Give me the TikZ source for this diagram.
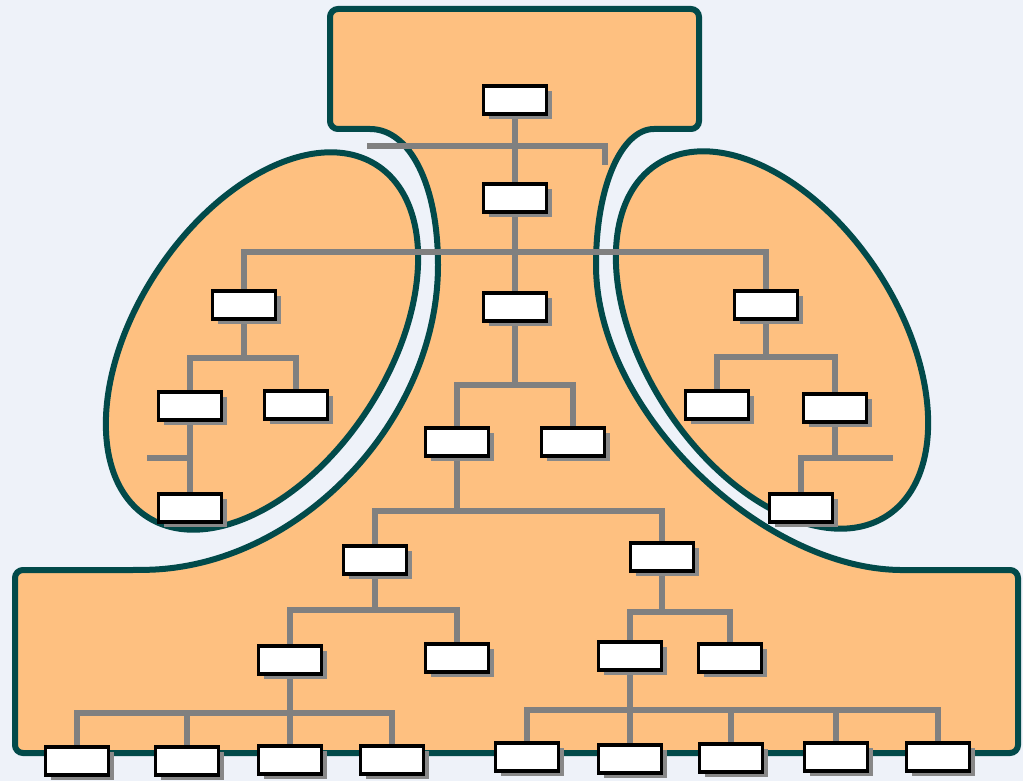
\documentclass[tikz,border=0pt]{standalone}
\usetikzlibrary{shadows}

\definecolor{paper}{RGB}{238,242,249}
\definecolor{regionfill}{RGB}{254,192,128}
\definecolor{regionline}{RGB}{2,74,74}
\definecolor{linkgray}{RGB}{128,128,128}
\definecolor{boxshade}{RGB}{136,136,136}

\pgfdeclarelayer{back}
\pgfsetlayers{back,main}

\begin{document}
\begin{tikzpicture}[x=1pt,y=-1pt,
    orgbox/.style={draw=black,line width=3.5pt,fill=white,inner sep=0pt,
      minimum width=63pt,minimum height=28pt,
      drop shadow={shadow xshift=5pt,shadow yshift=-5pt,fill=boxshade,opacity=1}},
    link/.style={draw=linkgray,line width=6pt},
    region/.style={fill=regionfill,draw=regionline,line width=6pt}]
  \useasboundingbox (0,0) rectangle (1023,781);

  % top and trunk
  \node[orgbox] (n1) at (515,100) {};
  \node[orgbox] (n2) at (515,198) {};
  \node[orgbox] (n4) at (515,307) {};
  % left oval
  \node[orgbox] (n3) at (244,305) {};
  \node[orgbox] (n6) at (190,406) {};
  \node[orgbox] (n7) at (296,405) {};
  \node[orgbox] (n10) at (190,508) {};
  % right oval
  \node[orgbox] (n5) at (766,305) {};
  \node[orgbox] (n8) at (717,405) {};
  \node[orgbox] (n9) at (835,408) {};
  \node[orgbox] (n11) at (801,508) {};
  % middle
  \node[orgbox] (n12) at (457,442) {};
  \node[orgbox] (n13) at (573,442) {};
  \node[orgbox] (n14) at (375,560) {};
  \node[orgbox] (n15) at (662,557) {};
  \node[orgbox] (n16) at (290,660) {};
  \node[orgbox] (n17) at (457,658) {};
  \node[orgbox] (n18) at (630,656) {};
  \node[orgbox] (n19) at (730,658) {};
  % bottom row
  \node[orgbox] (n20) at (77,761) {};
  \node[orgbox] (n21) at (187,761) {};
  \node[orgbox] (n22) at (290,760) {};
  \node[orgbox] (n23) at (392,760) {};
  \node[orgbox] (n24) at (527,757) {};
  \node[orgbox] (n25) at (630,759) {};
  \node[orgbox] (n26) at (731,758) {};
  \node[orgbox] (n27) at (836,757) {};
  \node[orgbox] (n28) at (938,757) {};

  \begin{pgfonlayer}{back}
    \fill[paper] (0,0) rectangle (1023,781);
    \draw[region] (515,9) [rounded corners=8pt] -- (699,9) -- (699,129) -- (662,129)
      [sharp corners] .. controls (622,129) and (596,185) .. (596,265)
      .. controls (596,410) and (760,568) .. (900,570)
      [rounded corners=8pt] -- (1018,570) -- (1018,753) -- (15,753) -- (15,570) -- (140,570)
      [sharp corners] .. controls (300,566) and (438,420) .. (438,265)
      .. controls (438,185) and (410,129) .. (370,129)
      [rounded corners=8pt] -- (330,129) -- (330,9) -- cycle;
    \draw[region,rotate around={56.7:(262,341)}] (262,341) ellipse [x radius=210pt,y radius=126pt];
    \draw[region,rotate around={-56.7:(772,340)}] (772,340) ellipse [x radius=210pt,y radius=126pt];

    % connectors
    \coordinate (t1a) at (367,146);
    \coordinate (t1b) at (605,165);
    \coordinate (s6) at (147,458);
    \coordinate (s9) at (893,458);
    \draw[link] (n1.south) -- (n2.north);
    \draw[link] (t1a) -| (t1b);
    \draw[link] (n2.south) -- (n4.north);
    \draw[link] (n3.north) |- (n2.south |- 0,252) -| (n5.north);

    \draw[link] (n3.south) -- (n3.south |- 0,358);
    \draw[link] (n6.north) |- (n3.south |- 0,358) -| (n7.north);
    \draw[link] (n6.south) -- (n10.north);
    \draw[link] (s6) -- (n6.south |- s6);

    \draw[link] (n5.south) -- (n5.south |- 0,357);
    \draw[link] (n8.north) |- (n5.south |- 0,357) -| (n9.north);
    \draw[link] (n9.south) -- (n9.south |- s9);
    \draw[link] (n11.north) |- (s9);

    \draw[link] (n4.south) -- (n4.south |- 0,385);
    \draw[link] (n12.north) |- (n4.south |- 0,385) -| (n13.north);
    \draw[link] (n12.south) -- (n12.south |- 0,511);
    \draw[link] (n14.north) |- (n12.south |- 0,511) -| (n15.north);
    \draw[link] (n14.south) -- (n14.south |- 0,610);
    \draw[link] (n16.north) |- (n14.south |- 0,610) -| (n17.north);
    \draw[link] (n15.south) -- (n15.south |- 0,612);
    \draw[link] (n18.north) |- (n15.south |- 0,612) -| (n19.north);

    \draw[link] (n16.south) -- (n22.north);
    \draw[link] (n20.north) |- (n16.south |- 0,713) -| (n23.north);
    \draw[link] (n21.north) -- (n21.north |- 0,713);
    \draw[link] (n18.south) -- (n25.north);
    \draw[link] (n24.north) |- (n18.south |- 0,710) -| (n28.north);
    \draw[link] (n26.north) -- (n26.north |- 0,710);
    \draw[link] (n27.north) -- (n27.north |- 0,710);
  \end{pgfonlayer}
\end{tikzpicture}
\end{document}
